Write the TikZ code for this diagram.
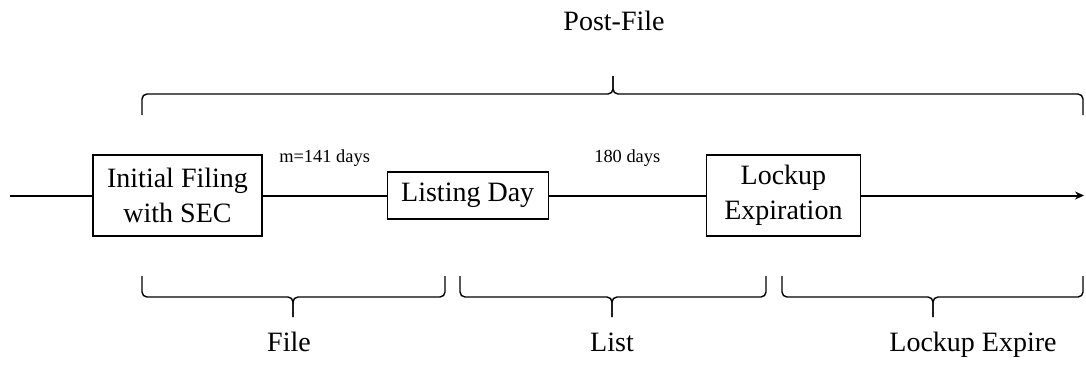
\documentclass[tikz,border=0pt]{standalone}
\usepackage{fontspec}
\setmainfont{Liberation Serif}
\usetikzlibrary{positioning, arrows.meta}

\begin{document}
\begin{tikzpicture}[
        x=0.5pt, y=-0.5pt,
        hito/.style={draw, line width=0.6pt, fill=white, align=center, inner sep=0pt, font=\fontsize{14}{17.5}\selectfont},
        plazo/.style={inner sep=0pt, font=\fontsize{9.2}{11}\selectfont},
        etapa/.style={anchor=base, inner sep=0pt, font=\fontsize{14}{17}\selectfont},
        linea/.style={line width=1pt},
        flecha/.style={->, >={Stealth[length=4.5pt, width=4pt]}, line width=1pt},
        llave/.style={line width=0.7pt, rounded corners=2.5pt}
    ]
    \useasboundingbox (0,0) rectangle (1086,364);

    \node (filing) [hito, minimum width=84.5pt, minimum height=40.5pt] at (177.5,195.5) {Initial Filing\\with SEC};
    \node (listing) [hito, minimum width=80.5pt, minimum height=23.5pt, right=62pt of filing] {Listing Day};
    \node (lockup) [hito, minimum width=77pt, minimum height=40.5pt, right=78.5pt of listing] {Lockup\\Expiration};
    \coordinate (inicio) at (10,195.5);
    \coordinate (fin) at (1084,195.5);

    \draw [linea] (inicio) -- (filing);
    \draw [linea] (filing) -- node[plazo, above=14pt] {m=141 days} (listing);
    \draw [linea] (listing) -- node[plazo, above=14pt] {180 days} (lockup);
    \draw [flecha] (lockup) -- (fin);

    % llave superior
    \draw [llave] (142,115) -- (142,94) -- (613,94) -- (613,76);
    \draw [llave] (1083,115) -- (1083,94) -- (613,94) -- (613,76);
    \node (postfile) [etapa] at (614,30) {Post-File};

    % llaves inferiores
    \draw [llave] (142,276) -- (142,297) -- (293,297) -- (293,317);
    \draw [llave] (445,276) -- (445,297) -- (293,297) -- (293,317);
    \draw [llave] (460,276) -- (460,297) -- (612,297) -- (612,317);
    \draw [llave] (766,276) -- (766,297) -- (612,297) -- (612,317);
    \draw [llave] (782,276) -- (782,297) -- (933,297) -- (933,317);
    \draw [llave] (1083,276) -- (1083,297) -- (933,297) -- (933,317);
    \node (file) [etapa] at (289,351) {File};
    \node (list) [etapa] at (612,351) {List};
    \node (expire) [etapa] at (973,351) {Lockup Expire};
\end{tikzpicture}
\end{document}
